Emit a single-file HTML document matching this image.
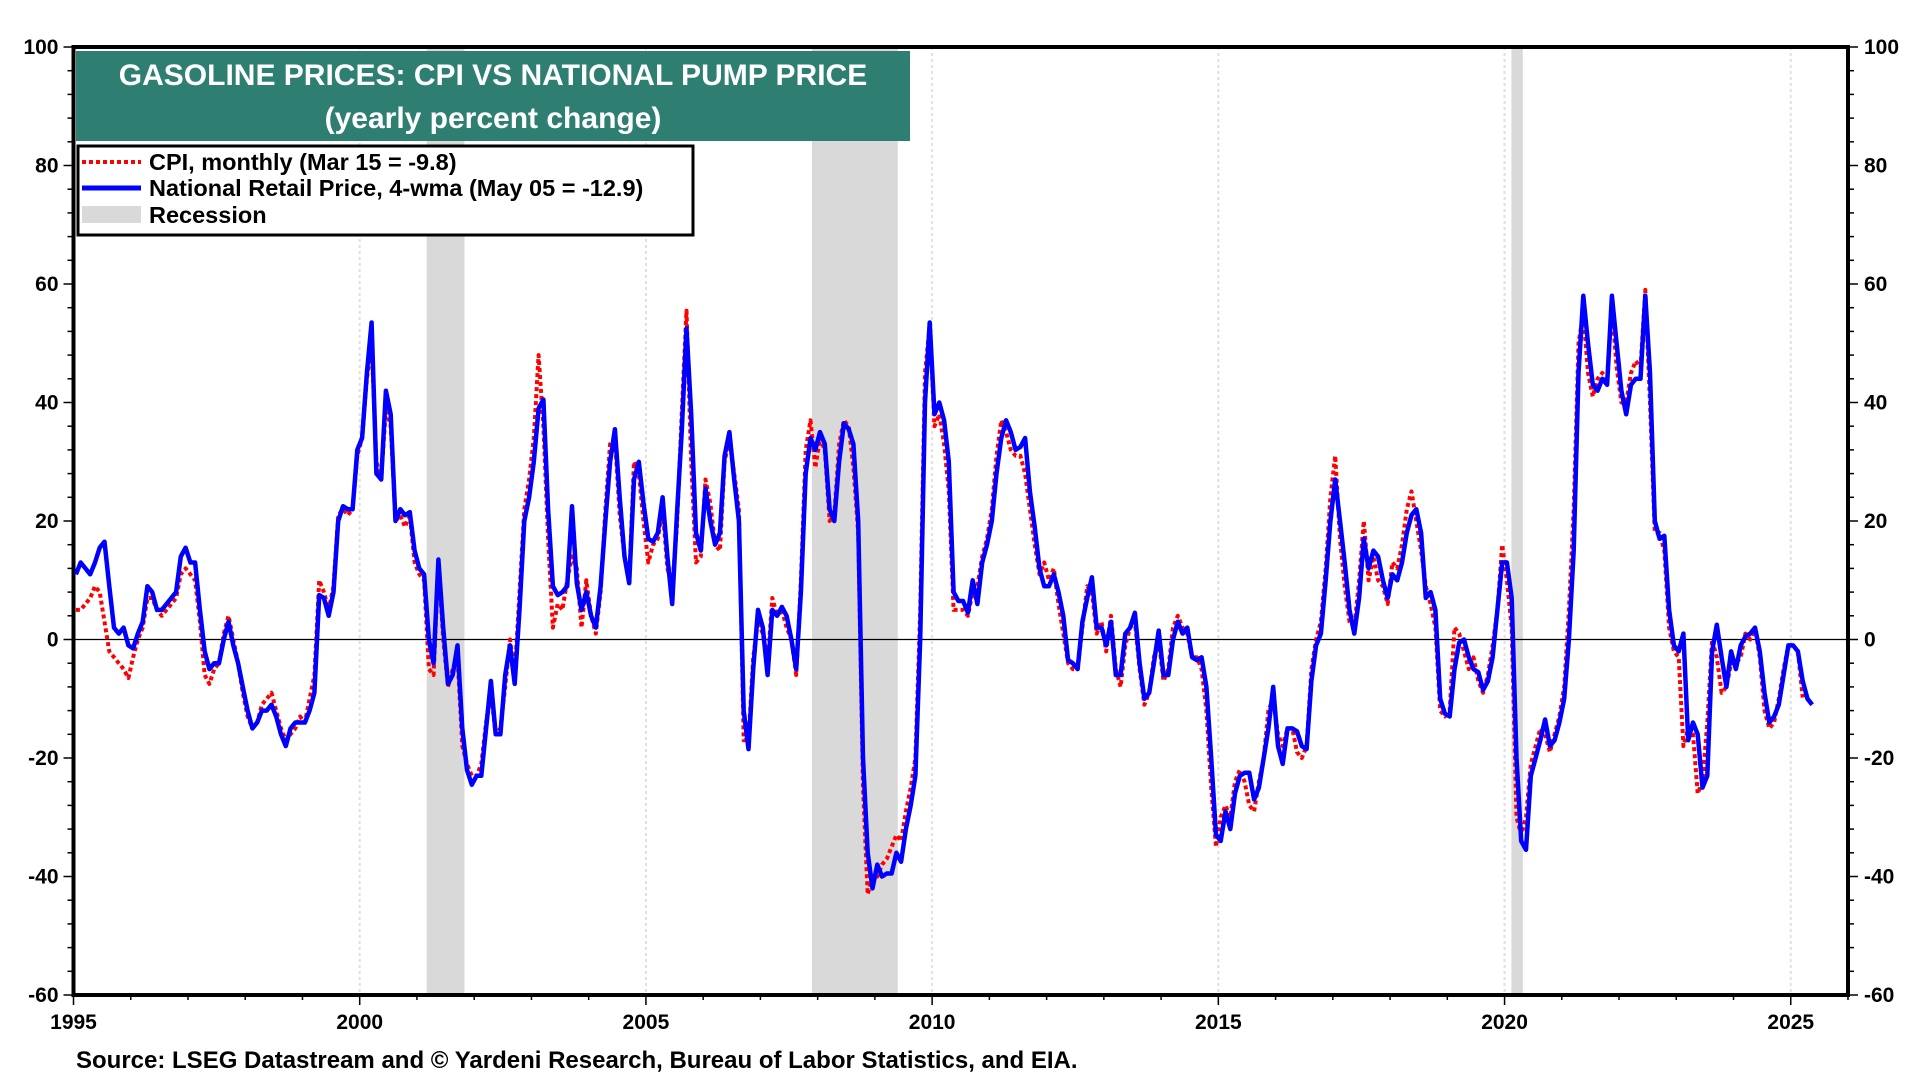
<!DOCTYPE html>
<html><head><meta charset="utf-8"><style>
html,body{margin:0;padding:0;background:#fff;}
svg{display:block;font-family:"Liberation Sans",Arial,sans-serif;font-weight:bold;}
</style></head><body>
<svg id="chart" width="1920" height="1080" viewBox="0 0 1920 1080" xmlns="http://www.w3.org/2000/svg">
<g id="recessions"></g>
<g id="grid"></g>
<g id="axes"></g>
<g id="series"></g>
<g>
<rect x="76" y="51" width="834" height="90" fill="#2e7f72"/>
<text x="493" y="85" text-anchor="middle" fill="#fff" font-size="30">GASOLINE PRICES: CPI VS NATIONAL PUMP PRICE</text>
<text x="493" y="128" text-anchor="middle" fill="#fff" font-size="30">(yearly percent change)</text>
</g>
<g>
<rect x="78" y="146" width="615" height="89" fill="#fff" stroke="#000" stroke-width="3"/>
<line x1="82" y1="162" x2="141" y2="162" stroke="#ff0000" stroke-width="4" stroke-dasharray="4,3"/>
<text x="149" y="170" font-size="23.5">CPI, monthly (Mar 15 = -9.8)</text>
<line x1="82" y1="188" x2="141" y2="188" stroke="#0000ff" stroke-width="5"/>
<text x="149" y="196" font-size="23.5">National Retail Price, 4-wma (May 05 = -12.9)</text>
<rect x="82" y="206" width="59" height="17" fill="#d9d9d9"/>
<text x="149" y="223" font-size="23.5">Recession</text>
</g>
<text x="76" y="1068" font-size="24">Source: LSEG Datastream and © Yardeni Research, Bureau of Labor Statistics, and EIA.</text>
</svg>
<script>
const startYear = 1995;
const blueValues = [
11,13,12,11,13,15.5,16.5,9,2,1,2,-1,
-1.5,1,3,9,8,5,5,6,7,8,14,15.5,
13,13,5,-2,-5,-4,-4,0,3,-1,-4,-8,
-12,-15,-14,-12,-12,-11,-13,-16,-18,-15,-14,-14,
-14,-12,-9,7.5,7,4,8,20,22.5,22,22,32,
34,45,53.5,28,27,42,38,20,22,21,21.5,15,
12,11,0,-4,13.5,2,-7.5,-6,-1,-15,-22,-24.5,
-23,-23,-15,-7,-16,-16,-6,-1,-7.5,5,20,24,
30,39,40.5,22,9,7.5,8,9,22.5,9.5,5,8,
4,2,9,20,30,35.5,24,14,9.5,27,30,23,
17,16.5,18,24,14,6,21,35,52.5,38,18,15,
25.5,20,16,18,31,35,27,20,-12,-18.5,-5,5,
2,-6,5,4,5.5,4,0,-5,8,28,34,32,
35,33,22,20,30,36.5,35.5,33,20,-20,-36,-42,
-38,-40,-39.5,-39.5,-36,-37.5,-32,-28,-23,0,40,53.5,
38,40,37,30,8,6.5,6.5,4.5,10,6,13,16,
20,28,34,37,35,32,32.5,34,25,19,12,9,
9,11,8,4,-3.5,-4,-5,3,7,10.5,2,2,
-1,3,-6,-6,1,2,4.5,-4,-10,-9,-4,1.5,
-6,-6,0,3,1,2,-3,-3.5,-3,-8,-20,-33,
-34,-29,-32,-26,-23,-22.5,-22.5,-27,-25,-20,-15,-8,
-18,-21,-15,-15,-15.5,-18,-18.5,-7,-1,1,10,20,
27,20,13,5,1,7,17,12,15,14,10,7,
11,10,13,18,21,22,18,7,8,5,-10,-12.5,
-13,-5,-0.5,0,-3,-5,-5.5,-8.5,-7,-3,5,13,
13,7,-20,-34,-35.5,-23,-20,-17,-13.5,-18,-17,-14,
-10,0,15,45,58,50,43,42,44,43,58,50,
42,38,43,44,44,58,45,20,17,17.5,5,-1,
-2,1,-17,-14,-16,-25,-23,-2,2.5,-3,-8,-2,
-5,-1,0.5,1,2,-2,-9,-14,-13,-11,-6,-1,
-1,-2,-7,-10,-11
];
const redValues = [
5,5,6,7,9,8,3,-2,-3,-4,-5,-6.5,
-3,0,2,7,7,5,4,5,6,7,11,12,
11,10,3,-6,-7.5,-5,-4,1,4,0,-4,-9,
-13,-15,-14,-11,-10,-9,-12,-15,-17,-16,-15,-13,
-14,-10,-6,10,8,5,9,21,22,21,22,31,
34,44,50,30,27,39,36,20,21,19,21,13,
11,10,-5,-6,13,0,-8,-5,-3,-18,-21,-23,
-23,-21,-14,-9,-16,-15,-8,0,-6,8,22,27,
34,48,36,17,2,6,5,10,14,12,2,10,
4,1,8,22,33,34,21,14,10,30,28,20,
13,16,17,22,12,9,19,38,55.5,30,13,14,
27,23,16,15,30,34,28,22,-17,-17,-3,3,
1,-4,7,4,5,2,0,-6,10,32,37,29,
34,32,20,21,33,37,36,29,18,-25,-43,-40,
-40,-38,-37,-35,-33,-34,-29,-25,-20,5,45,53,
36,38,33,25,5,5,5,4,8,9,14,17,
22,31,37,35,32,31,31,28,22,16,11,13,
10,12,6,1,-4,-5,-5,2,9,8,1,3,
-2,4,-5,-8,-1,2,3,-5,-11,-9,-3,0,
-7,-5,2,4,2,1,-3,-3,-5,-12,-25,-35,
-30,-28,-30,-24,-22,-24,-28,-29,-24,-20,-12,-10,
-16,-18,-15,-15,-19,-20,-18,-5,0,3,12,24,
31,17,9,3,2,10,20,10,14,10,9,6,
13,12,16,22,25,20,15,9,6,2,-12,-13,
-12,2,1,-2,-5,-3,-7,-9,-6,-1,5,16,
10,2,-30,-33,-30,-21,-18,-15,-16,-19,-16,-13,
-8,5,22,50,55,45,41,44,45,44,56,46,
40,40,45,47,46,59,40,18,18,15,2,-2,
-3,-18,-15,-16,-26,-24,-14,0,-3,-9,-8,-4,
-4,-3,1,0,2,-3,-12,-15,-14,-10,-5,-1,
-1,-2,-9.8
];
const recessionStarts = [2001.17, 2007.9, 2020.12];
const recessionEnds = [2001.83, 2009.4, 2020.32];
const yTicks = [100,80,60,40,20,0,-20,-40,-60];
const xTickYears = [1995,2000,2005,2010,2015,2020,2025];

const NS = "http://www.w3.org/2000/svg";
const X0 = 73.5, X1 = 1848, Y0 = 47, Y1 = 995;
const xMin = 1995, xMax = 2026, yMin = -60, yMax = 100;
const xs = v => X0 + (v - xMin) / (xMax - xMin) * (X1 - X0);
const ys = v => Y1 - (v - yMin) / (yMax - yMin) * (Y1 - Y0);
function mk(tag, attrs, parent){const e=document.createElementNS(NS,tag);for(const k in attrs)e.setAttribute(k,attrs[k]);parent.appendChild(e);return e;}

const rg = document.getElementById('recessions');
for (let i=0;i<recessionStarts.length;i++){
  const r = mk('rect',{x:xs(recessionStarts[i]),y:Y0,width:xs(recessionEnds[i])-xs(recessionStarts[i]),height:Y1-Y0,fill:'#d9d9d9'},rg);
  
  
}
const gg = document.getElementById('grid');
xTickYears.forEach(y=>{
  if(y===1995) return;
  const l = mk('line',{x1:xs(y),x2:xs(y),y1:Y0,y2:Y1,stroke:'#e0e0e0','stroke-width':2,'stroke-dasharray':'3,3'},gg);
  
  
});
const zl = mk('line',{x1:X0,x2:X1,y1:ys(0),y2:ys(0),stroke:'#000','stroke-width':1.2},gg);



const ax = document.getElementById('axes');
const frame = mk('rect',{x:X0,y:Y0,width:X1-X0,height:Y1-Y0,fill:'none',stroke:'#000','stroke-width':4},ax);


for(let v=yMin; v<=yMax; v+=4){
  const major = yTicks.includes(v);
  const len = major?10:6;
  mk('line',{x1:X0-len,x2:X0,y1:ys(v),y2:ys(v),stroke:'#000','stroke-width':1.5},ax);
  mk('line',{x1:X1,x2:X1+len,y1:ys(v),y2:ys(v),stroke:'#000','stroke-width':1.5},ax);
}
yTicks.forEach(v=>{
  const t = mk('text',{x:X0-15,y:ys(v)+7,'text-anchor':'end','font-size':21},ax);
  t.textContent = v;
  
  
  const t2 = mk('text',{x:X1+16,y:ys(v)+7,'text-anchor':'start','font-size':21},ax);
  t2.textContent = v;
  
  
});
for(let y=1995;y<=2026;y++){
  const major = xTickYears.includes(y);
  mk('line',{x1:xs(y),x2:xs(y),y1:Y1,y2:Y1+(major?10:5),stroke:'#000','stroke-width':1.5},ax);
}
xTickYears.forEach(y=>{
  const t = mk('text',{x:xs(y),y:1029,'text-anchor':'middle','font-size':21},ax);
  t.textContent = y;
  
  
});

function pathFor(vals){
  return vals.map((v,i)=>(i?'L':'M')+xs(startYear+(i+0.5)/12).toFixed(1)+','+ys(v).toFixed(1)).join('');
}
const sg = document.getElementById('series');
const red = mk('path',{d:pathFor(redValues),fill:'none',stroke:'#ff0000','stroke-width':4,'stroke-dasharray':'4,3','stroke-linejoin':'round'},sg);


const blue = mk('path',{d:pathFor(blueValues),fill:'none',stroke:'#0000ff','stroke-width':4.5,'stroke-linejoin':'round'},sg);


</script>
</body></html>
